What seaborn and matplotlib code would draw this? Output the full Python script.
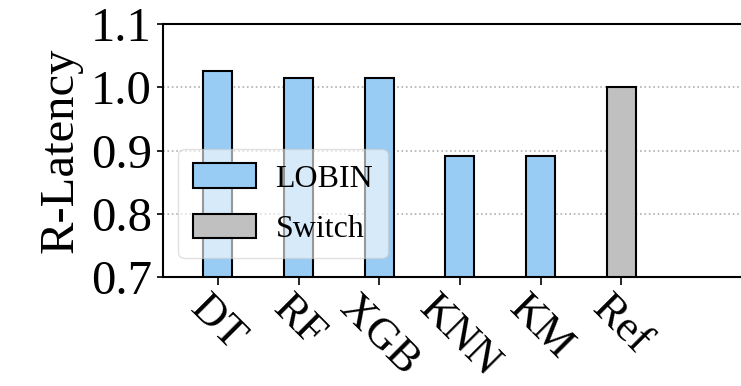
import pandas as pd
import matplotlib
matplotlib.use("Agg")
import matplotlib.pyplot as plt
import seaborn as sns

# data
models = ["DT", "RF", "XGB", "KNN", "KM", "Ref"]
latency = [1.025, 1.014, 1.014, 0.892, 0.892, 1.000]
groups = ["LOBIN", "LOBIN", "LOBIN", "LOBIN", "LOBIN", "Switch"]

df = pd.DataFrame({"model": models, "latency": latency, "group": groups})

sns.set_style("ticks")
plt.rcParams["font.family"] = ["Liberation Serif", "DejaVu Serif"]
plt.rcParams["text.color"] = "black"
plt.rcParams["xtick.color"] = "black"
plt.rcParams["ytick.color"] = "black"
plt.rcParams["axes.labelcolor"] = "black"
plt.rcParams["axes.edgecolor"] = "black"

fig = plt.figure(figsize=(7.41, 3.86), dpi=100)
# right spine sits just past the image edge, as in the reference
ax = fig.add_axes([0.22, 0.282, 0.786, 0.656])

colors = {"LOBIN": "#99CCF4", "Switch": "#C0C0C0"}
sns.barplot(data=df, x="model", y="latency", hue="group", palette=colors,
            dodge=False, width=0.36, edgecolor="black", linewidth=1.5,
            saturation=1, ax=ax, zorder=2)

ax.set_ylim(0.7, 1.1)
ax.set_yticks([0.7, 0.8, 0.9, 1.0, 1.1])
ax.set_xlim(-0.68, 6.54)
ax.yaxis.grid(True, linestyle=":", color="#b0b0b0", linewidth=1.2, zorder=0)
ax.set_axisbelow(True)

ax.set_xlabel("")
ax.set_ylabel("R-Latency", fontsize=35, labelpad=6)
ax.tick_params(axis="y", labelsize=35, length=4, width=1.2, pad=4)
ax.tick_params(axis="x", labelsize=32, length=6, width=1.2, pad=2)
for lbl in ax.get_xticklabels():
    lbl.set_rotation(-45)
    lbl.set_ha("center")
    lbl.set_va("top")

for sp in ax.spines.values():
    sp.set_linewidth(1.5)

ax.legend(loc="upper left", bbox_to_anchor=(0.026, 0.506), borderaxespad=0,
          fontsize=23, handlelength=2.0, handleheight=0.8, framealpha=0.6,
          borderpad=0.45, labelspacing=0.62, handletextpad=0.6)

fig.savefig("out.png", dpi=100)
